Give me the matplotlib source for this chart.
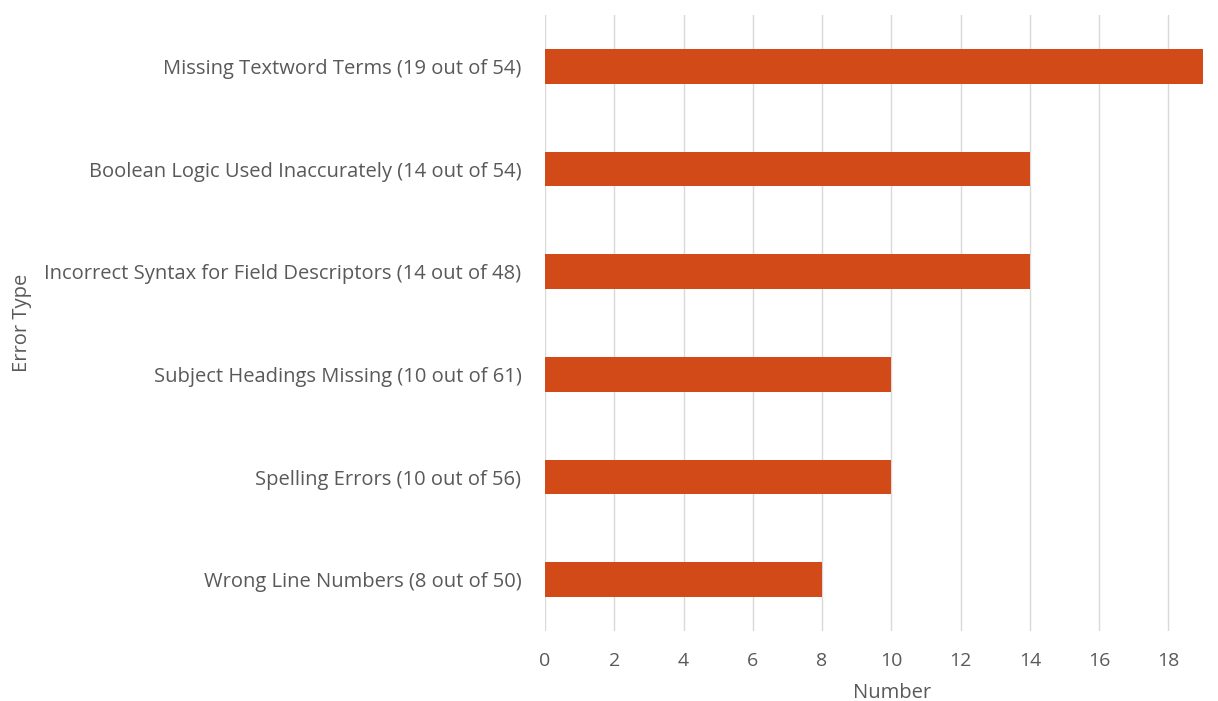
import matplotlib
import matplotlib.pyplot as plt

matplotlib.use("Agg")

categories = [
    "Wrong Line Numbers (8 out of 50)",
    "Spelling Errors (10 out of 56)",
    "Subject Headings Missing (10 out of 61)",
    "Incorrect Syntax for Field Descriptors (14 out of 48)",
    "Boolean Logic Used Inaccurately (14 out of 54)",
    "Missing Textword Terms (19 out of 54)",
]
counts = [8, 10, 10, 14, 14, 19]
xticks = [0, 2, 4, 6, 8, 10, 12, 14, 16, 18]

plt.rcParams["font.family"] = ["Open Sans", "DejaVu Sans"]
TEXT = "#595959"

fig, ax = plt.subplots(figsize=(12.18, 7.01), dpi=100)
fig.subplots_adjust(left=545 / 1218, right=1203 / 1218, top=1 - 15 / 701, bottom=1 - 631 / 701)

ax.barh(categories, counts, height=0.34, color="#D14A18", zorder=3)

ax.set_xlim(0, 19)
ax.set_ylim(-0.5, len(categories) - 0.5)
ax.set_xticks(xticks)
ax.grid(axis="x", color="#D9D9D9", linewidth=1, zorder=0)
for side in ax.spines.values():
    side.set_visible(False)
ax.tick_params(axis="both", length=0, colors=TEXT)
ax.tick_params(axis="x", pad=15, labelsize=14)
ax.tick_params(axis="y", pad=17, labelsize=14.5)

ax.set_xlabel("Number", color=TEXT, fontsize=14.5)
ax.set_ylabel("Error Type", color=TEXT, fontsize=14.5)
ax.xaxis.set_label_coords(0.527, -0.101)
ax.yaxis.set_label_coords(-0.795, 0.50)
ax.xaxis.label.set_va("center")
ax.yaxis.label.set_va("center")

fig.savefig("out.png", dpi=100)
